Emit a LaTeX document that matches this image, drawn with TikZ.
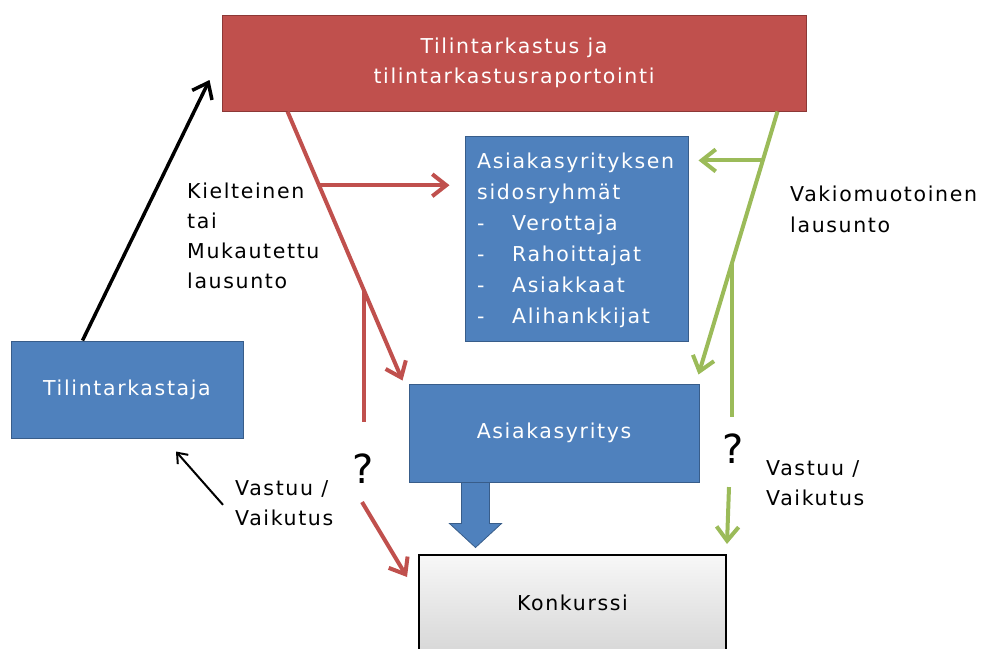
\documentclass[tikz,border=0pt]{standalone}
\usepackage{fontspec}
\setmainfont{DejaVu Sans}[LetterSpace=8]
\usetikzlibrary{arrows.meta,calc}
\definecolor{cred}{HTML}{C0504D}
\definecolor{credb}{HTML}{8C3836}
\definecolor{cblue}{HTML}{4F81BD}
\definecolor{cblueb}{HTML}{385D8A}
\definecolor{cgreen}{HTML}{9BBB59}
\newcommand{\itemdash}[1]{\makebox[35pt][l]{-}#1}
\begin{document}
\begin{tikzpicture}[x=1pt,y=-1pt,
  font=\fontsize{20.5}{30}\selectfont,
  bluebox/.style={draw=cblueb, line width=1pt, fill=cblue, text=white, inner sep=0pt, align=center},
  lbl/.style={anchor=north west, align=left, inner sep=0pt, text=black},
  qmark/.style={font=\fontsize{40}{40}\selectfont, inner sep=0pt, text=black},
  barb/.style={-{Straight Barb[length=14pt,width=22pt]}},
  redline/.style={draw=cred, line width=4pt},
  greenline/.style={draw=cgreen, line width=4pt},
  blackline/.style={draw=black, line width=3.5pt},
]
\useasboundingbox (0,0) rectangle (985,648);
\clip (0,0) rectangle (985,648);

% boxes
\node[draw=credb, fill=cred, line width=1pt, minimum width=584pt, minimum height=96pt,
      text=white, align=center, inner sep=0pt, font=\fontsize{20.5}{30}\selectfont] (top) at (514,63)
      {Tilintarkastus ja\\tilintarkastusraportointi};
\node[bluebox, minimum width=223pt, minimum height=205pt] (sidos) at (576.5,238.5) {};
\node[lbl, text=white, font=\fontsize{20.5}{31}\selectfont] (sidostext) at (477,153)
  {Asiakasyrityksen\\sidosryhmät\\\itemdash{Verottaja}\\\itemdash{Rahoittajat}\\\itemdash{Asiakkaat}\\\itemdash{Alihankkijat}};
\node[bluebox, minimum width=232pt, minimum height=97pt] (tilin) at (127,389.5) {Tilintarkastaja};
\node[bluebox, minimum width=290pt, minimum height=98pt] (asiakas) at (554,433) {Asiakasyritys};
\node[draw=black, line width=2pt, top color=gray!6, bottom color=gray!32, minimum width=307pt,
      minimum height=100pt, inner sep=0pt] (konk) at (572.5,605) {};
\node[text=black, inner sep=0pt] (konktext) at (572.5,603) {Konkurssi};

% block arrow
\draw[fill=cblue, draw=cblueb, line width=0.8pt]
  ($(asiakas.south west)+(53,0)$) -- ++(0,41) -- ++(-12,0) -- ++(26,24) -- ++(26,-24) -- ++(-12,0) -- ++(0,-41) -- cycle;

% labels
\node[lbl] (kiel) at (187,183) {Kielteinen\\tai\\Mukautettu\\lausunto};
\node[lbl, font=\fontsize{20.5}{31}\selectfont] (vakio) at (790,186) {Vakiomuotoinen\\lausunto};
\node[lbl] (vast1) at (235,480) {Vastuu /\\Vaikutus};
\node[lbl] (vast2) at (766,460) {Vastuu /\\Vaikutus};
\node[qmark] (q1) at (363,469) {?};
\node[qmark] (q2) at (733,449) {?};

% black arrows
\coordinate (bstart) at ($(tilin.north west)+(72,0)$);
\coordinate (bend) at ($(top.west)+(-12,17)$);
\draw[blackline, barb] (bstart) -- (bend);
\coordinate (tstart) at ($(vast1.west)+(-12,2)$);
\coordinate (tend) at ($(tilin.south)+(49,13)$);
\draw[draw=black, line width=2pt, -{Straight Barb[length=9pt,width=14pt]}] (tstart) -- (tend);

% red connectors
\coordinate (r1) at ($(top.south west)+(66,0)$);
\coordinate (r2) at ($(asiakas.north west)+(-6,-3)$);
\draw[redline, barb] (r1) -- (r2);
\coordinate (rb1) at ($(r1)!0.274!(r2)$);
\draw[redline, barb] (rb1) -- ($(rb1 -| sidos.west)+(-15,0)$);
\coordinate (rb2) at ($(r1)!0.663!(r2)$);
\coordinate (rb2e) at ($(q1.north)+(0,-32)$);
\draw[redline] (rb2) -- (rb2 |- rb2e);
\coordinate (rs) at ($(q1.south)+(-1,18)$);
\coordinate (re) at ($(konk.west)+(-11,-28)$);
\draw[redline, barb] (rs) -- (re);

% green connectors
\coordinate (g1) at ($(top.south east)+(-29,0)$);
\coordinate (g2) at ($(asiakas.north east)+(-1,-9)$);
\draw[greenline, barb] (g1) -- (g2);
\coordinate (gb1) at ($(g1)!0.186!(g2)$);
\draw[greenline, barb] (gb1) -- ($(gb1 -| sidos.east)+(10,0)$);
\coordinate (gb2) at ($(g1)!0.572!(g2)$);
\coordinate (gb2e) at ($(q2.north)+(0,-17)$);
\draw[greenline] (gb2) -- (gb2 |- gb2e);
\coordinate (gs) at ($(q2.south)+(-4,23)$);
\coordinate (ge) at ($(konk.north east)+(0,-10)$);
\draw[greenline, barb] (gs) -- (ge);
\end{tikzpicture}
\end{document}
